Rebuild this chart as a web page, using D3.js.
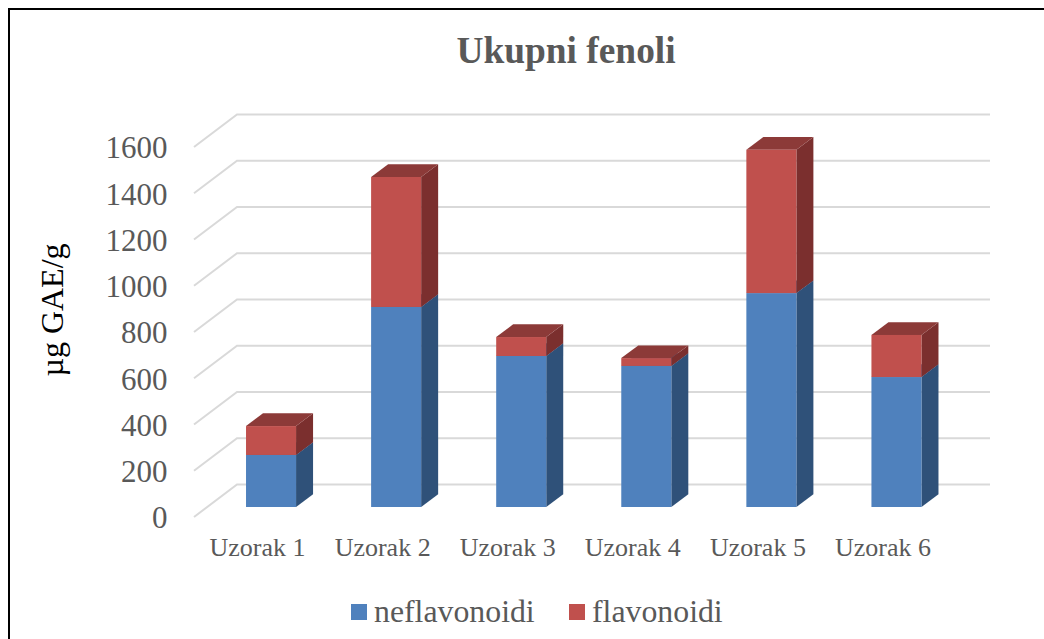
<!DOCTYPE html>
<html lang="hr">
<head>
    <meta charset="UTF-8">
    <title>Ukupni fenoli</title>
    <script src="https://d3js.org/d3.v7.min.js"></script>
    <style>
        html, body { margin: 0; padding: 0; background: #fff; overflow: hidden; }
        svg { display: block; font-family: "Liberation Serif", serif; }
        .grid { stroke: #d9d9d9; stroke-width: 2; fill: none; }
    </style>
</head>
<body>
<svg></svg>
<script>
    const categories = ["Uzorak 1", "Uzorak 2", "Uzorak 3", "Uzorak 4", "Uzorak 5", "Uzorak 6"];
    const neflavonoidi = [225, 865, 653, 610, 925, 562];
    const flavonoidi = [125, 562, 82, 34, 620, 182];
    const seriesNames = ["neflavonoidi", "flavonoidi"];
    const yTicks = [0, 200, 400, 600, 800, 1000, 1200, 1400, 1600];

    const width = 1044, height = 639;
    const svg = d3.select("svg").attr("width", width).attr("height", height);

    // outer frame, only top and left edges are in the crop
    svg.append("path")
        .attr("d", "M9,639V9H1044")
        .attr("fill", "none")
        .attr("stroke", "#000")
        .attr("stroke-width", 2);

    svg.append("text")
        .attr("x", 566).attr("y", 63)
        .attr("text-anchor", "middle")
        .attr("font-size", 37.4)
        .attr("font-weight", "bold")
        .attr("fill", "#595959")
        .text("Ukupni fenoli");

    const depth = { x: 43, y: -32.5 };
    const barDepth = { x: 17, y: -12.7 };

    // value -> y on the front wall edge; bars stand 10px in front of the tick position
    const yScale = d3.scaleLinear().domain([0, 1600]).range([517, 147]);
    const xScale = d3.scaleBand().domain(categories).range([208.5, 959]).paddingInner(0.6).paddingOuter(0.3);
    const barBase = 507;
    const barY = v => yScale(v) - (yScale(0) - barBase);

    // gridlines: floor edge + back wall
    svg.append("g").selectAll("path")
        .data(yTicks)
        .join("path")
        .attr("class", "grid")
        .attr("d", d => {
            const y0 = yScale(d);
            return `M194,${y0}L${194 + depth.x},${y0 + depth.y}H990`;
        });

    const yAxis = svg.append("g")
        .attr("transform", "translate(173.5,1)")
        .call(d3.axisLeft(yScale).tickValues(yTicks).tickFormat(d3.format("d")).tickSize(0).tickPadding(6));
    yAxis.select(".domain").remove();
    yAxis.selectAll("text")
        .attr("font-family", "Liberation Serif")
        .attr("font-size", 31)
        .attr("fill", "#595959");

    svg.append("text")
        .attr("transform", "translate(63,310) rotate(-90)")
        .attr("text-anchor", "middle")
        .attr("font-size", 32)
        .attr("fill", "#000")
        .text("µg GAE/g");

    const xAxis = svg.append("g")
        .attr("transform", "translate(-13.5,538)")
        .call(d3.axisBottom(xScale).tickSize(0).tickPadding(0));
    xAxis.select(".domain").remove();
    xAxis.selectAll("text")
        .attr("font-family", "Liberation Serif")
        .attr("font-size", 26)
        .attr("fill", "#595959");

    const colors = {
        neflavonoidi: { front: "#4f81bd", side: "#2f5179", top: "#3a6595" },
        flavonoidi: { front: "#c0504d", side: "#7b2f2e", top: "#8c3a38" }
    };

    const segments = categories.map((c, i) => [
        { cat: c, name: "neflavonoidi", v0: 0, v1: neflavonoidi[i] },
        { cat: c, name: "flavonoidi", v0: neflavonoidi[i], v1: neflavonoidi[i] + flavonoidi[i] }
    ]);

    const bars = svg.append("g").selectAll("g").data(segments).join("g");

    const faces = bars.selectAll("g").data(d => d).join("g");

    faces.append("path") // side
        .attr("fill", d => colors[d.name].side)
        .attr("d", d => {
            const xr = xScale(d.cat) + xScale.bandwidth();
            return `M${xr},${barY(d.v0)}l${barDepth.x},${barDepth.y}V${barY(d.v1) + barDepth.y}l${-barDepth.x},${-barDepth.y}Z`;
        });

    faces.append("path") // top
        .attr("fill", d => colors[d.name].top)
        .attr("d", d => {
            const x0 = xScale(d.cat);
            return `M${x0},${barY(d.v1)}l${barDepth.x},${barDepth.y}h${xScale.bandwidth()}l${-barDepth.x},${-barDepth.y}Z`;
        });

    faces.append("rect") // front
        .attr("x", d => xScale(d.cat))
        .attr("y", d => barY(d.v1))
        .attr("width", xScale.bandwidth())
        .attr("height", d => barY(d.v0) - barY(d.v1))
        .attr("fill", d => colors[d.name].front);

    const legendX = d3.scaleOrdinal().domain(seriesNames).range([351, 569]);
    const legend = svg.append("g").selectAll("g").data(seriesNames).join("g")
        .attr("transform", d => `translate(${legendX(d)},0)`);
    legend.append("rect")
        .attr("y", 604).attr("width", 16).attr("height", 16)
        .attr("fill", d => colors[d].front);
    legend.append("text")
        .attr("x", 23).attr("y", 622)
        .attr("font-size", 31.8)
        .attr("fill", "#595959")
        .text(d => d);
</script>
</body>
</html>
